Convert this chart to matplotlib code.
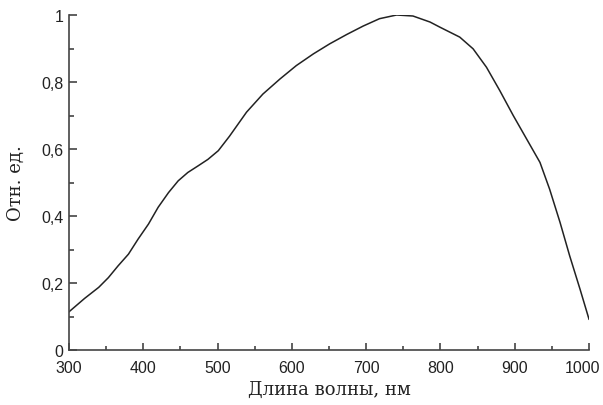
import matplotlib
matplotlib.use("Agg")
import matplotlib.pyplot as plt
from matplotlib.ticker import MultipleLocator, FuncFormatter

# values
wavelength = [300, 321, 340, 353, 366, 380, 393, 407, 420, 434, 447, 460,
              474, 487, 501, 516, 539, 561, 584, 606, 629, 651, 674, 696,
              718, 741, 763, 786, 799, 826, 844, 862, 880, 898, 916, 934,
              947, 961, 974, 988, 1000]
response = [0.114, 0.154, 0.187, 0.216, 0.251, 0.286, 0.331, 0.376, 0.426,
            0.47, 0.505, 0.53, 0.55, 0.569, 0.595, 0.638, 0.71, 0.764,
            0.809, 0.849, 0.884, 0.914, 0.942, 0.967, 0.989, 1.0, 0.997,
            0.979, 0.964, 0.934, 0.899, 0.844, 0.774, 0.70, 0.63, 0.56,
            0.48, 0.381, 0.281, 0.181, 0.092]

tick_font = ["Liberation Sans", "DejaVu Sans"]
label_font = ["DejaVu Serif"]
ink = "#222222"

fig = plt.figure(figsize=(6.03, 4.06), dpi=100)
ax = fig.add_axes([69 / 603, 1 - 351 / 406, 520 / 603, 335 / 406])

ax.plot(wavelength, response, color=ink, lw=1.1, solid_joinstyle="round")

ax.set_xlim(300, 1000)
ax.set_ylim(0, 1)
for s in ["top", "right"]:
    ax.spines[s].set_visible(False)
for s in ["left", "bottom"]:
    ax.spines[s].set_color("#444444")
    ax.spines[s].set_linewidth(1.2)


def y_fmt(v, pos):
    v = round(v, 2)
    if v == 0 or v == 1:
        return f"{int(v)}"
    return f"{v:.1f}".replace(".", ",")


def x_fmt(v, pos):
    # the 1000 label is placed separately so it stays inside the figure
    return "" if round(v) == 1000 else f"{int(round(v))}"


ax.xaxis.set_major_locator(MultipleLocator(100))
ax.xaxis.set_minor_locator(MultipleLocator(50))
ax.yaxis.set_major_locator(MultipleLocator(0.2))
ax.yaxis.set_minor_locator(MultipleLocator(0.1))
ax.yaxis.set_major_formatter(FuncFormatter(y_fmt))
ax.xaxis.set_major_formatter(FuncFormatter(x_fmt))

ax.tick_params(which="both", direction="in", color="#444444", width=1.2)
ax.tick_params(axis="y", which="major", length=6, pad=4)
ax.tick_params(axis="y", which="minor", length=3.5)
ax.tick_params(axis="x", which="major", length=5, pad=7.5)
ax.tick_params(axis="x", which="minor", length=3)

for lab in ax.get_xticklabels() + ax.get_yticklabels():
    lab.set_fontfamily(tick_font)
    lab.set_fontsize(11.5)
    lab.set_color(ink)

ax.annotate("1000", xy=(1000, 0), xytext=(-5, -7.5), textcoords="offset points",
            ha="center", va="top", family=tick_font, fontsize=11.5, color=ink,
            annotation_clip=False)

ax.set_xlabel("Длина волны, нм", family=label_font, fontsize=13, color=ink, labelpad=3)
ax.set_ylabel("Отн. ед.", family=label_font, fontsize=13, color=ink, labelpad=12)

fig.savefig("out.png", dpi=100)
